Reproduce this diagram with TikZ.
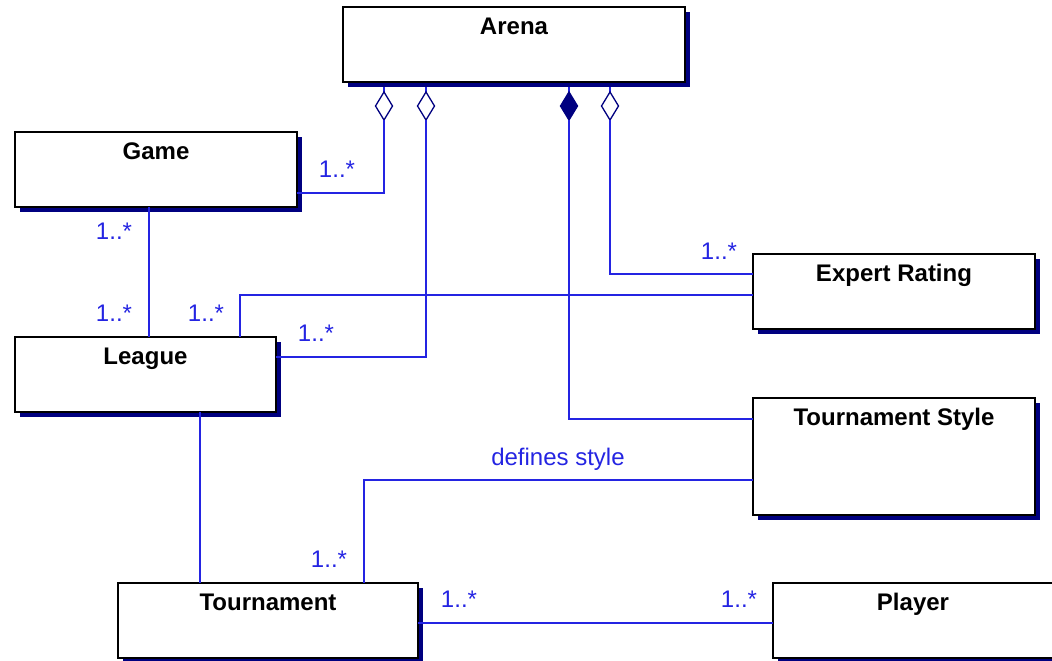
\documentclass[tikz,border=0pt]{standalone}
\usepackage{fontspec}
\setmainfont{Liberation Sans}
\usetikzlibrary{shadows,shapes.geometric,backgrounds}
\definecolor{wireblue}{RGB}{36,36,226}
\definecolor{shadownavy}{RGB}{0,0,128}
\tikzset{
  cls/.style={draw=black, line width=1.5pt, fill=white, rectangle,
    inner sep=0pt, outer sep=0pt, anchor=north west,
    text height=27.5pt, text depth=47.5pt,
    font=\fontsize{24}{24}\selectfont\bfseries,
    drop shadow={shadow xshift=5pt, shadow yshift=-5pt, fill=shadownavy, opacity=1}},
  tallcls/.style={cls, text depth=89.5pt},
  wire/.style={draw=wireblue, line width=1.6pt},
  mult/.style={text=wireblue, anchor=base, inner sep=0pt,
    font=\fontsize{24}{24}\selectfont},
  aggdiamond/.style={diamond, draw=shadownavy, line width=1.3pt, fill=white,
    minimum width=17pt, minimum height=28pt, inner sep=0pt, outer sep=0pt},
  compdiamond/.style={aggdiamond, fill=shadownavy},
}
\begin{document}
\begin{tikzpicture}[x=1pt, y=-1pt]
\useasboundingbox (0,0) rectangle (1052,661);

% classes
\node[cls, minimum width=342pt] (arena) at (343,7) {Arena};
\node[cls, minimum width=282pt] (game) at (15,132) {Game};
\node[cls, minimum width=261pt] (league) at (15,337) {League};
\node[cls, minimum width=282pt] (expert) at (753,254) {Expert Rating};
\node[tallcls, minimum width=282pt] (tstyle) at (753,398) {Tournament Style};
\node[cls, minimum width=300pt] (tournament) at (118,583) {Tournament};
\node[cls, minimum width=280pt] (player) at (773,583) {Player};

% aggregation / composition diamonds under Arena
\node[aggdiamond] (dgame) at (384,106) {};
\node[aggdiamond] (dleague) at (426,106) {};
\node[compdiamond] (dstyle) at (569,106) {};
\node[aggdiamond] (drating) at (610,106) {};

\begin{scope}[on background layer]
  % short stubs between Arena and its diamonds
  \draw[wire] (dgame.north) -- (arena.south -| dgame);
  \draw[wire] (dleague.north) -- (arena.south -| dleague);
  \draw[wire] (dstyle.north) -- (arena.south -| dstyle);
  \draw[wire] (drating.north) -- (arena.south -| drating);
\end{scope}

% associations
\draw[wire] (game.east |- 0,193) -| (dgame.south);
\draw[wire] (league.east |- 0,357) -| (dleague.south);
\draw[wire] (dstyle.south) |- (tstyle.west |- 0,419);
\draw[wire] (drating.south) |- (expert.west |- 0,274);
\draw[wire] (league.north -| 240,0) |- (expert.west |- 0,295);
\draw[wire] (game.south -| 149,0) -- (league.north -| 149,0);
\draw[wire] (league.south -| 200,0) -- (tournament.north -| 200,0);
\draw[wire] (tstyle.west |- 0,480) -| (tournament.north -| 364,0);
\draw[wire] (tournament.east |- 0,623) -- (player.west |- 0,623);

% multiplicities and role names
\node[mult] (mgameagg) at (337,177) {1..*};
\node[mult] (mgametop) at (114,239) {1..*};
\node[mult] (mleaguegame) at (114,321) {1..*};
\node[mult] (mleaguerating) at (206,321) {1..*};
\node[mult] (mleagueagg) at (316,341) {1..*};
\node[mult] (mrating) at (719,259) {1..*};
\node[mult] (mtournstyle) at (329,567) {1..*};
\node[mult] (mtournplayer) at (459,607) {1..*};
\node[mult] (mplayer) at (739,607) {1..*};
\node[mult] (defines) at (558,465) {defines style};
\end{tikzpicture}
\end{document}
